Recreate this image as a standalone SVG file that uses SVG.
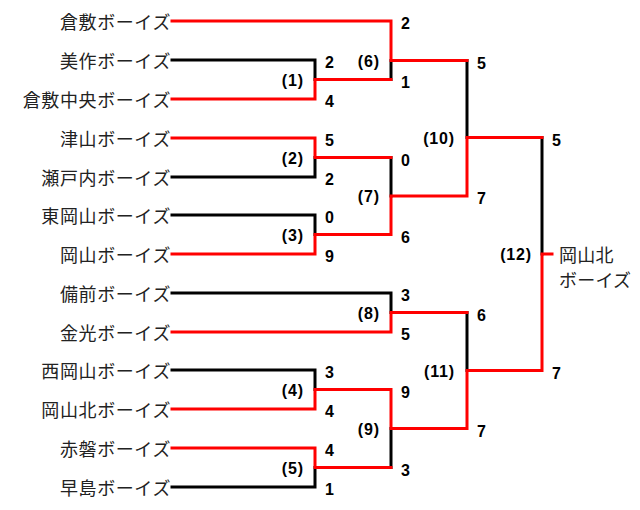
<svg xmlns="http://www.w3.org/2000/svg" width="640" height="510" viewBox="0 0 640 510">
<style>
.team{font-family:"Noto Sans CJK JP","Noto Sans CJK SC",sans-serif;font-size:18px;fill:#222;letter-spacing:0.6px;text-anchor:end}
.win{font-family:"Noto Sans CJK JP","Noto Sans CJK SC",sans-serif;font-size:18px;fill:#222;letter-spacing:0.2px}
.sc{font-family:"Liberation Sans",Arial,sans-serif;font-size:16px;font-weight:bold;fill:#000}
.mt{font-family:"Liberation Sans",Arial,sans-serif;font-size:16px;font-weight:bold;fill:#000;letter-spacing:0.8px;text-anchor:end}
.k{fill:none;stroke:#000;stroke-width:3;stroke-linecap:square;stroke-linejoin:miter}
.r{fill:none;stroke:#ff0000;stroke-width:3;stroke-linecap:square;stroke-linejoin:miter}
</style>
<rect width="640" height="510" fill="#fff"/>
<g id="connectors">
<g id="losers">
<path class="k" d="M172,60 H315 V79.5"/>
<path class="k" d="M172,177 H315 V157.5"/>
<path class="k" d="M172,215 H315 V234.5"/>
<path class="k" d="M172,370 H315 V389.5"/>
<path class="k" d="M172,487 H315 V467.5"/>
<path class="k" d="M391,79.5 V60.5"/>
<path class="k" d="M391,157.5 V196"/>
<path class="k" d="M172,293 H391 V312.5"/>
<path class="k" d="M391,467.5 V428.5"/>
<path class="k" d="M467,60.5 V137.5"/>
<path class="k" d="M467,312.5 V370.5"/>
<path class="k" d="M542,137.5 V254"/>
</g>
<g id="winners">
<path class="r" d="M172,21 H391 V60.5 H467"/>
<path class="r" d="M172,99 H315 V79.5 H391"/>
<path class="r" d="M172,138 H315 V157.5 H391"/>
<path class="r" d="M172,254 H315 V234.5 H391 V196 H467 V137.5 H542"/>
<path class="r" d="M172,332 H391 V312.5 H467"/>
<path class="r" d="M172,409 H315 V389.5 H391 V428.5 H467 V370.5 H542 V254 H552"/>
<path class="r" d="M172,448 H315 V467.5 H391"/>
</g>
</g>
<g id="teams">
<g id="t-kurashiki"><text class="team" x="171" y="29">倉敷ボーイズ</text></g>
<g id="t-mimasaka"><text class="team" x="171" y="68">美作ボーイズ</text></g>
<g id="t-kurashikichuo"><text class="team" x="171" y="107">倉敷中央ボーイズ</text></g>
<g id="t-tsuyama"><text class="team" x="171" y="146">津山ボーイズ</text></g>
<g id="t-setouchi"><text class="team" x="171" y="185">瀬戸内ボーイズ</text></g>
<g id="t-higashiokayama"><text class="team" x="171" y="223">東岡山ボーイズ</text></g>
<g id="t-okayama"><text class="team" x="171" y="262">岡山ボーイズ</text></g>
<g id="t-bizen"><text class="team" x="171" y="301">備前ボーイズ</text></g>
<g id="t-konko"><text class="team" x="171" y="340">金光ボーイズ</text></g>
<g id="t-nishiokayama"><text class="team" x="171" y="378">西岡山ボーイズ</text></g>
<g id="t-okayamakita"><text class="team" x="171" y="417">岡山北ボーイズ</text></g>
<g id="t-akaiwa"><text class="team" x="171" y="456">赤磐ボーイズ</text></g>
<g id="t-hayashima"><text class="team" x="171" y="495">早島ボーイズ</text></g>
<g id="champion"><text class="win" x="559" y="262">岡山北</text><text class="win" x="559" y="287">ボーイズ</text></g>
</g>
<g id="matches">
<g id="m1"><text class="mt" x="303.8" y="85.5">(1)</text><text class="sc" x="325" y="68">2</text><text class="sc" x="325" y="107">4</text></g>
<g id="m2"><text class="mt" x="303.8" y="163.5">(2)</text><text class="sc" x="325" y="146">5</text><text class="sc" x="325" y="185">2</text></g>
<g id="m3"><text class="mt" x="303.8" y="240.5">(3)</text><text class="sc" x="325" y="223">0</text><text class="sc" x="325" y="262">9</text></g>
<g id="m4"><text class="mt" x="303.8" y="395.5">(4)</text><text class="sc" x="325" y="378">3</text><text class="sc" x="325" y="417">4</text></g>
<g id="m5"><text class="mt" x="303.8" y="473.5">(5)</text><text class="sc" x="325" y="456">4</text><text class="sc" x="325" y="495">1</text></g>
<g id="m6"><text class="mt" x="379.8" y="66.5">(6)</text><text class="sc" x="401" y="29">2</text><text class="sc" x="401" y="87.5">1</text></g>
<g id="m7"><text class="mt" x="379.8" y="202">(7)</text><text class="sc" x="401" y="165.5">0</text><text class="sc" x="401" y="242.5">6</text></g>
<g id="m8"><text class="mt" x="379.8" y="318.5">(8)</text><text class="sc" x="401" y="301">3</text><text class="sc" x="401" y="340">5</text></g>
<g id="m9"><text class="mt" x="379.8" y="434.5">(9)</text><text class="sc" x="401" y="397.5">9</text><text class="sc" x="401" y="475.5">3</text></g>
<g id="m10"><text class="mt" x="454.8" y="144">(10)</text><text class="sc" x="477" y="68.5">5</text><text class="sc" x="477" y="204">7</text></g>
<g id="m11"><text class="mt" x="454.8" y="376.5">(11)</text><text class="sc" x="477" y="320.5">6</text><text class="sc" x="477" y="436.5">7</text></g>
<g id="m12"><text class="mt" x="531.8" y="260">(12)</text><text class="sc" x="552" y="145.5">5</text><text class="sc" x="552" y="378.5">7</text></g>
</g>
</svg>
